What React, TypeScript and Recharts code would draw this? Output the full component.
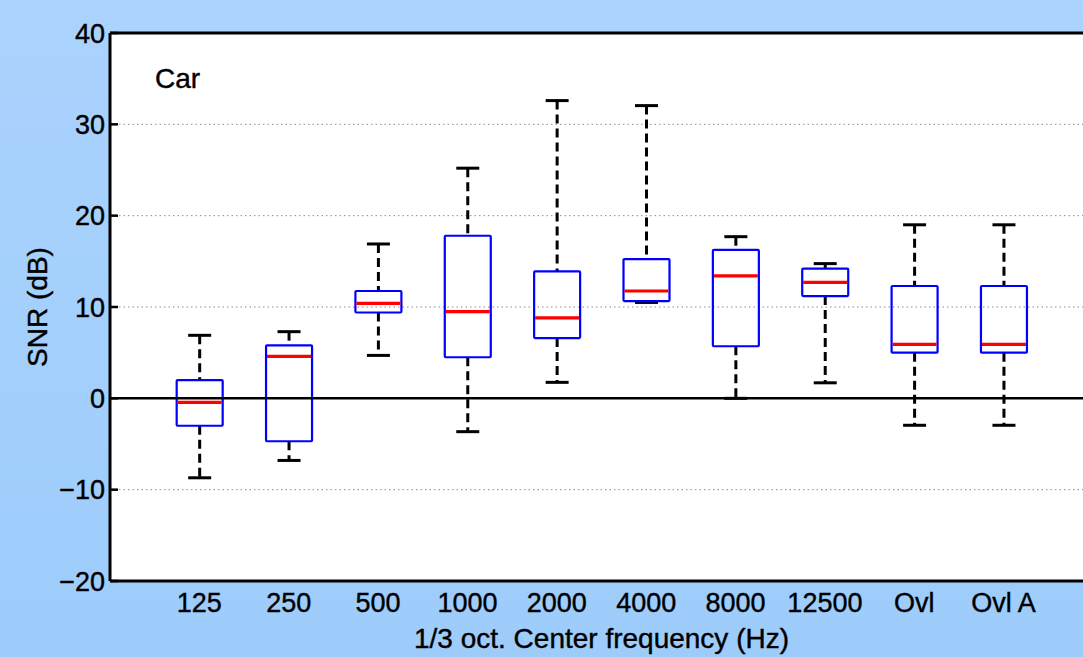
import React from "react";
import {
  ComposedChart,
  Bar,
  XAxis,
  YAxis,
  CartesianGrid,
  ReferenceLine,
  Label,
} from "recharts";

// ── Data ─────────────────────────────────────────────────

const categories = ["125", "250", "500", "1000", "2000", "4000", "8000", "12500", "Ovl", "Ovl A"];
const whiskerHigh = [6.9, 7.3, 16.9, 25.2, 32.6, 32.05, 17.7, 14.75, 19.0, 19.0];
const q3 = [2.0, 5.8, 11.75, 17.8, 13.9, 15.25, 16.25, 14.2, 12.3, 12.3];
const median = [-0.45, 4.6, 10.4, 9.5, 8.8, 11.75, 13.4, 12.7, 5.9, 5.9];
const q1 = [-3.0, -4.7, 9.4, 4.5, 6.6, 10.65, 5.7, 11.2, 5.0, 5.0];
const whiskerLow = [-8.7, -6.8, 4.7, -3.65, 1.75, 10.5, 0.0, 1.7, -2.95, -2.95];
const yTicks = [-20, -10, 0, 10, 20, 30, 40];

const data = categories.map((name, i) => ({
  pos: i + 1,
  name,
  hi: whiskerHigh[i],
  q3: q3[i],
  med: median[i],
  q1: q1[i],
  lo: whiskerLow[i],
}));

// ── Styles ───────────────────────────────────────────────

const FONT = "'Liberation Sans', Arial, Helvetica, sans-serif";
const TICK_SIZE = 27;
const LABEL_SIZE = 28;
const TEXT_STYLE = { stroke: "#000", strokeWidth: 0.4 };

// ── Box shape: bar spans lo..hi, inner marks mapped linearly ──

function BoxShape(props: any) {
  const { x, y, width, height, payload } = props;
  if (x == null || y == null) return null;
  const top = Math.min(y, y + height);
  const h = Math.abs(height);
  const { hi, lo } = payload;
  const pix = (v: number) => top + ((hi - v) / (hi - lo)) * h;
  const cx = x + width / 2;
  const capW = 23;
  const yHi = pix(hi);
  const yQ3 = pix(payload.q3);
  const yMed = pix(payload.med);
  const yQ1 = pix(payload.q1);
  const yLo = pix(lo);
  return (
    <g>
      <line x1={cx} x2={cx} y1={yHi} y2={yQ3} stroke="#000" strokeWidth={3} strokeDasharray="9 5" />
      <line x1={cx} x2={cx} y1={yQ1} y2={yLo} stroke="#000" strokeWidth={3} strokeDasharray="9 5" />
      <line x1={cx - capW / 2} x2={cx + capW / 2} y1={yHi} y2={yHi} stroke="#000" strokeWidth={3} />
      <line x1={cx - capW / 2} x2={cx + capW / 2} y1={yLo} y2={yLo} stroke="#000" strokeWidth={3} />
      <rect x={x} y={yQ3} width={width} height={yQ1 - yQ3} fill="none" stroke="#0000ff" strokeWidth={2.2} rx={1} />
      <line x1={x + 1} x2={x + width - 1} y1={yMed} y2={yMed} stroke="#ff0000" strokeWidth={3.2} />
    </g>
  );
}

function YTick(props: any) {
  const { x, y, payload } = props;
  const v = payload.value;
  const txt = v < 0 ? "\u2212" + Math.abs(v) : String(v);
  return (
    <g>
      <line x1={x + 5} x2={x + 13} y1={y} y2={y} stroke="#000" strokeWidth={2.5} />
      <text x={x} y={y + 9.5} textAnchor="end" fontFamily={FONT} fontSize={TICK_SIZE} fill="#000" style={TEXT_STYLE}>
        {txt}
      </text>
    </g>
  );
}

function XTick(props: any) {
  const { x, y, payload } = props;
  const name = categories[payload.value - 1] ?? "";
  return (
    <text x={x} y={y + 31} textAnchor="middle" fontFamily={FONT} fontSize={TICK_SIZE} fill="#000" style={TEXT_STYLE}>
      {name}
    </text>
  );
}

export default function App() {
  return (
    <div
      style={{
        position: "absolute",
        left: 0,
        top: 0,
        width: 1083,
        height: 657,
        overflow: "hidden",
        background: "linear-gradient(180deg, #aad3fd 0%, #9dccfb 100%)",
      }}
    >
      <ComposedChart
        width={1110}
        height={657}
        data={data}
        margin={{ top: 33, right: 17, bottom: 20, left: 10 }}
      >
        <CartesianGrid
          vertical={false}
          horizontal={true}
          fill="#ffffff"
          stroke="#8c8c8c"
          strokeDasharray="1.5 3"
          horizontalValues={[-10, 10, 20, 30]}
        />
        <XAxis
          dataKey="pos"
          type="number"
          domain={[0, 11]}
          ticks={[1, 2, 3, 4, 5, 6, 7, 8, 9, 10]}
          allowDataOverflow
          height={56}
          tickLine={false}
          tickSize={0}
          tickMargin={0}
          tick={<XTick />}
          axisLine={{ stroke: "#000", strokeWidth: 3 }}
        >
          <Label
            content={({ viewBox }: any) => (
              <text
                x={viewBox.x + viewBox.width / 2}
                y={viewBox.y + 67}
                textAnchor="middle"
                fontFamily={FONT}
                fontSize={LABEL_SIZE}
                fill="#000"
                style={TEXT_STYLE}
              >
                1/3 oct. Center frequency (Hz)
              </text>
            )}
          />
        </XAxis>
        <YAxis
          type="number"
          domain={[-20, 40]}
          ticks={yTicks}
          allowDataOverflow
          width={100}
          tickLine={false}
          tickSize={0}
          tickMargin={5}
          tick={<YTick />}
          axisLine={{ stroke: "#000", strokeWidth: 3 }}
        >
          <Label
            content={({ viewBox }: any) => {
              const cx = viewBox.x + 27;
              const cy = viewBox.y + viewBox.height / 2;
              return (
                <text
                  x={cx}
                  y={cy}
                  transform={`rotate(-90 ${cx} ${cy})`}
                  textAnchor="middle"
                  dominantBaseline="central"
                  fontFamily={FONT}
                  fontSize={LABEL_SIZE}
                  fill="#000"
                  style={TEXT_STYLE}
                >
                  SNR (dB)
                </text>
              );
            }}
          />
        </YAxis>
        <ReferenceLine y={0} stroke="#000" strokeWidth={2.5} />
        <ReferenceLine
          y={40}
          stroke="#000"
          strokeWidth={3}
          label={({ viewBox }: any) => (
            <text
              x={viewBox.x + 45}
              y={viewBox.y + 55}
              fontFamily={FONT}
              fontSize={LABEL_SIZE}
              fill="#000"
              style={TEXT_STYLE}
            >
              Car
            </text>
          )}
        />
        <Bar
          dataKey={(d: any) => [d.lo, d.hi]}
          barSize={46}
          shape={<BoxShape />}
          isAnimationActive={false}
        />
      </ComposedChart>
    </div>
  );
}
